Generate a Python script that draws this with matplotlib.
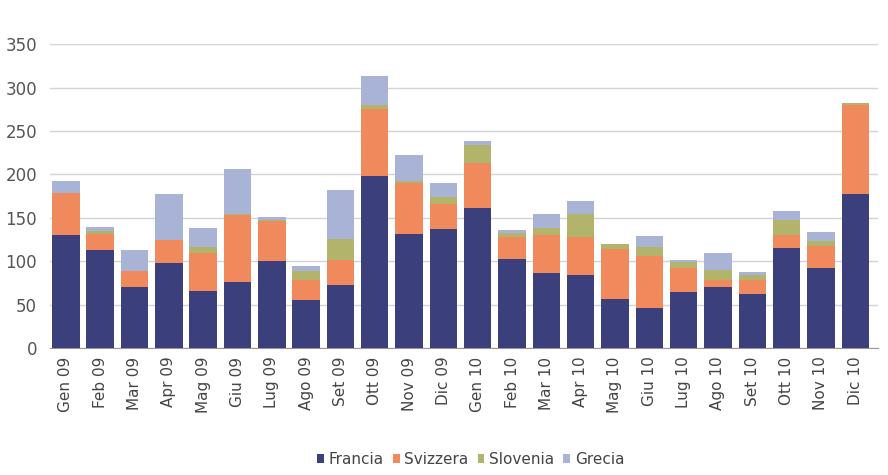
import matplotlib.pyplot as plt
import numpy as np

# mesi
mesi = ['Gen 09', 'Feb 09', 'Mar 09', 'Apr 09', 'Mag 09', 'Giu 09', 'Lug 09', 'Ago 09',
        'Set 09', 'Ott 09', 'Nov 09', 'Dic 09', 'Gen 10', 'Feb 10', 'Mar 10', 'Apr 10',
        'Mag 10', 'Giu 10', 'Lug 10', 'Ago 10', 'Set 10', 'Ott 10', 'Nov 10', 'Dic 10']

francia = [130, 113, 71, 98, 66, 76, 100, 55, 73, 198, 132, 137,
           161, 103, 87, 84, 57, 46, 65, 70, 62, 115, 92, 177]
svizzera = [49, 19, 18, 26, 44, 77, 46, 23, 29, 77, 58, 29,
            52, 25, 43, 44, 57, 60, 27, 9, 17, 15, 26, 103]
slovenia = [0, 3, 0, 0, 6, 2, 2, 11, 24, 5, 2, 8,
            21, 5, 8, 27, 6, 11, 7, 11, 5, 17, 5, 2]
grecia = [14, 5, 24, 53, 22, 51, 3, 6, 56, 33, 30, 16,
          4, 3, 17, 14, 0, 12, 3, 20, 4, 11, 11, 0]

colori = ['#3b3f7b', '#f08a5d', '#b2b46b', '#a8b3d5']

fig = plt.figure(figsize=(8.88, 4.75), dpi=100)
ax = fig.add_axes([0.056, 0.267, 0.933, 0.640])

x = np.arange(len(mesi))
bottom = np.zeros(len(mesi))
for serie, nome, c in zip([francia, svizzera, slovenia, grecia],
                          ['Francia', 'Svizzera', 'Slovenia', 'Grecia'], colori):
    ax.bar(x, serie, width=0.8, bottom=bottom, color=c, label=nome, zorder=3)
    bottom += np.array(serie)

ax.set_xlim(-0.47, 23.67)
ax.set_ylim(0, 350)
ax.set_yticks(range(0, 351, 50))
ax.yaxis.grid(True, color='#d4d4d8', linewidth=1, zorder=0)
ax.set_xticks(x)
ax.set_xticklabels(mesi, rotation=90, fontsize=11, color='#444444')
ax.tick_params(axis='y', labelsize=12, labelcolor='#555555', length=0, pad=9)
ax.tick_params(axis='x', length=0, pad=6)
for s in ['top', 'right', 'left']:
    ax.spines[s].set_visible(False)
ax.spines['bottom'].set_color('#999999')

fig.legend(loc='lower center', bbox_to_anchor=(0.53, -0.012), ncol=4, frameon=False,
           fontsize=11, handlelength=0.45, handleheight=0.6, handletextpad=0.3,
           columnspacing=0.6, labelcolor='#444444')

plt.savefig('out.png', dpi=100)
